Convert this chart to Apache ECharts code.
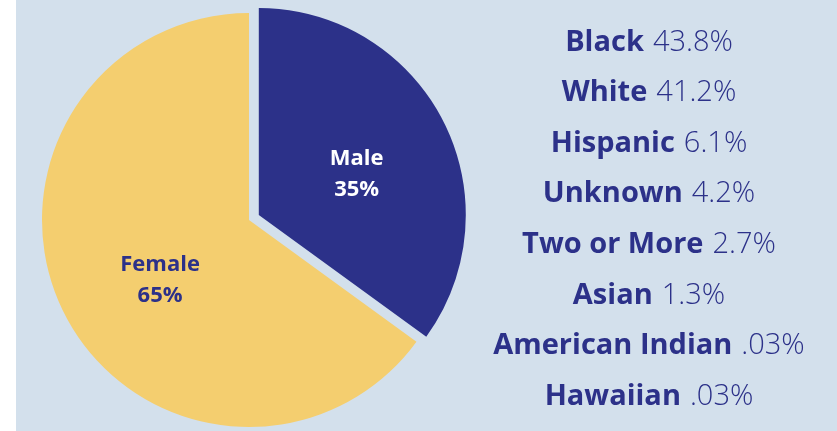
<!DOCTYPE html>
<html>
<head>
    <meta charset="UTF-8">
    <title></title>
    <style>
        body{margin:0;background:#fff;}
        #chart{position:absolute;left:16px;top:0;width:821px;height:431px;background:#d3e0ec;}
    </style>
</head>
<body>
<div id="chart"></div>
<script src="https://cdn.jsdelivr.net/npm/echarts@6/dist/echarts.min.js"></script>
<script>
    // gender split
    var genderNames = ['Male', 'Female'];
    var genderValues = [35, 65];
    // race breakdown
    var raceNames = ['Black', 'White', 'Hispanic', 'Unknown', 'Two or More', 'Asian', 'American Indian', 'Hawaiian'];
    var raceLabels = ['43.8%', '41.2%', '6.1%', '4.2%', '2.7%', '1.3%', '.03%', '.03%'];

    var navy = '#2c3189';
    var yellow = '#f4ce6f';

    var myChart = echarts.init(document.getElementById('chart'));

    var raceText = raceNames.map(function (n, i) {
        return '{b|' + n + '} {n|' + raceLabels[i] + '}';
    }).join('\n');

    var option = {
        animation: false,
        title: {
            text: raceText,
            left: 628,
            top: 12,
            textAlign: 'center',
            textStyle: {
                rich: {
                    b: {fontFamily: 'Open Sans', fontWeight: 'bold', fontSize: 29, lineHeight: 50.6, color: navy},
                    n: {fontFamily: 'Open Sans', fontWeight: 300, fontSize: 29, lineHeight: 50.6, color: navy, padding: [0, 0, 0, 4]}
                }
            }
        },
        series: [{
            type: 'pie',
            center: [233, 220],
            radius: 207,
            startAngle: 90,
            selectedMode: 'single',
            selectedOffset: 11,
            emphasis: {disabled: true},
            label: {
                show: true,
                position: 'inside',
                fontFamily: 'Open Sans',
                fontWeight: 'bold',
                fontSize: 22,
                lineHeight: 31,
                formatter: function (p) { return p.name + '\n' + p.value + '%'; }
            },
            labelLine: {show: false},
            data: genderNames.map(function (n, i) {
                var lab = {
                    color: i === 0 ? '#fff' : navy,
                    offset: i === 0 ? [3, 8] : [6, 12]
                };
                return {
                    name: n,
                    value: genderValues[i],
                    selected: i === 0,
                    itemStyle: {color: i === 0 ? navy : yellow},
                    label: lab,
                    select: {label: lab, itemStyle: {color: i === 0 ? navy : yellow}}
                };
            })
        }]
    };
    myChart.setOption(option);
</script>
</body>
</html>
